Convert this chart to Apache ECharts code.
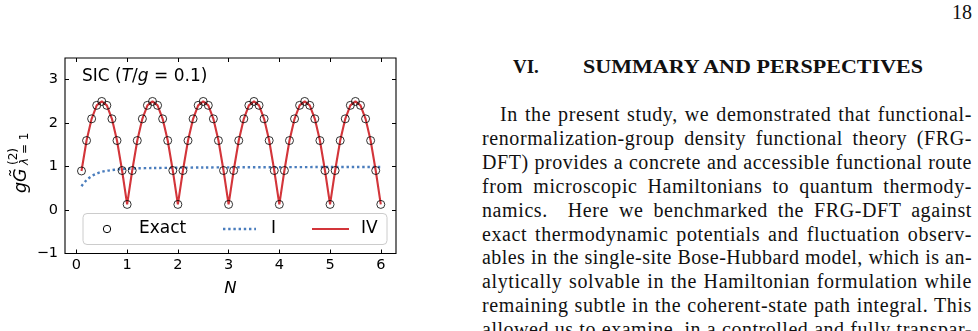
<!DOCTYPE html>
<html>
<head>
<meta charset="utf-8">
<script src="https://cdn.jsdelivr.net/npm/echarts@6/dist/echarts.min.js"></script>
<style>
  html, body { margin: 0; padding: 0; background: #fff; }
  body { width: 978px; height: 331px; position: relative; overflow: hidden; }
  #main { position: absolute; left: 0; top: 0; width: 480px; height: 331px; }
  .page { position: absolute; font-family: "Liberation Serif", serif; color: #111; white-space: nowrap; }
  #pagenum { left: 932px; top: 1px; width: 40px; text-align: right; font-size: 20px; }
  #secnum { left: 513px; top: 56px; font-size: 19px; font-weight: bold; }
  #sectitle { left: 583px; top: 56px; font-size: 19px; font-weight: bold; display: inline-block; transform-origin: 0 0; }
  #para { left: 482px; top: 103px; width: 490px; font-size: 20px; line-height: 23.9px; }
  #para div { text-align: justify; text-align-last: justify; }
</style>
</head>
<body>
<div id="main"></div>
<div class="page" id="pagenum">18</div>
<div class="page" id="secnum">VI.</div>
<div class="page" id="sectitle">SUMMARY AND PERSPECTIVES</div>
<div class="page" id="para"></div>
<script>
// particle number N
var N = [0.1, 0.2, 0.3, 0.4, 0.5, 0.6, 0.7, 0.8, 0.9, 1.0,
         1.1, 1.2, 1.3, 1.4, 1.5, 1.6, 1.7, 1.8, 1.9, 2.0,
         2.1, 2.2, 2.3, 2.4, 2.5, 2.6, 2.7, 2.8, 2.9, 3.0,
         3.1, 3.2, 3.3, 3.4, 3.5, 3.6, 3.7, 3.8, 3.9, 4.0,
         4.1, 4.2, 4.3, 4.4, 4.5, 4.6, 4.7, 4.8, 4.9, 5.0,
         5.1, 5.2, 5.3, 5.4, 5.5, 5.6, 5.7, 5.8, 5.9, 6.0];
// exact values (circles)
var exactG = [0.90, 1.60, 2.10, 2.41, 2.50, 2.41, 2.10, 1.60, 0.91, 0.13,
              0.91, 1.60, 2.10, 2.41, 2.50, 2.41, 2.10, 1.60, 0.91, 0.13,
              0.91, 1.60, 2.10, 2.41, 2.50, 2.41, 2.10, 1.60, 0.91, 0.13,
              0.91, 1.60, 2.10, 2.41, 2.50, 2.41, 2.10, 1.60, 0.91, 0.13,
              0.91, 1.60, 2.10, 2.41, 2.50, 2.41, 2.10, 1.60, 0.91, 0.13,
              0.91, 1.60, 2.10, 2.41, 2.50, 2.41, 2.10, 1.60, 0.91, 0.13];
// approximation IV (red line)
var modelIV = [0.90, 1.60, 2.10, 2.41, 2.50, 2.41, 2.10, 1.60, 0.91, 0.13,
               0.91, 1.60, 2.10, 2.41, 2.50, 2.41, 2.10, 1.60, 0.91, 0.13,
               0.91, 1.60, 2.10, 2.41, 2.50, 2.41, 2.10, 1.60, 0.91, 0.13,
               0.91, 1.60, 2.10, 2.41, 2.50, 2.41, 2.10, 1.60, 0.91, 0.13,
               0.91, 1.60, 2.10, 2.41, 2.50, 2.41, 2.10, 1.60, 0.91, 0.13,
               0.91, 1.60, 2.10, 2.41, 2.50, 2.41, 2.10, 1.60, 0.91, 0.13];
// approximation I (blue dotted)
var nI = [0.1, 0.2, 0.3, 0.4, 0.5, 0.6, 0.7, 0.8, 0.9, 1.0, 1.2, 1.5, 2.0, 2.5, 3.0, 4.0, 5.0, 6.0];
var modelI = [0.55, 0.69, 0.78, 0.84, 0.88, 0.905, 0.92, 0.935, 0.943, 0.95, 0.96, 0.967, 0.975, 0.98, 0.983, 0.987, 0.99, 0.99];

var xTicks = [0, 1, 2, 3, 4, 5, 6];
var yTicks = [-1, 0, 1, 2, 3];

var paraLines = [
  'In the present study, we demonstrated that functional-',
  'renormalization-group density functional theory (FRG-',
  'DFT) provides a concrete and accessible functional route',
  'from microscopic Hamiltonians to quantum thermody-',
  'namics.\u00a0 Here we benchmarked the FRG-DFT against',
  'exact thermodynamic potentials and fluctuation observ-',
  'ables in the single-site Bose-Hubbard model, which is an-',
  'alytically solvable in the Hamiltonian formulation while',
  'remaining subtle in the coherent-state path integral. This',
  'allowed us to examine, in a controlled and fully transpar-'
];

var RED = '#d3353a', BLUE = '#4a7dbd';
var ff = 'DejaVu Sans';
function minusFmt(v) { return v < 0 ? '\u2212' + Math.abs(v) : String(v); }
var tick = { show: true, inside: true, length: 4, lineStyle: { color: '#000', width: 1 } };
var noLine = { show: false, onZero: false };

function pairs(xs, ys) { return xs.map(function (x, i) { return [x, ys[i]]; }); }

var chart = echarts.init(document.getElementById('main'));
var option = {
  animation: false,
  backgroundColor: '#fff',
  grid: { left: 65, top: 58, width: 331, height: 195.5, show: true, borderColor: '#000', borderWidth: 1.1 },
  xAxis: [
    { type: 'value', min: -0.225, max: 6.3, position: 'bottom',
      axisLine: noLine, splitLine: { show: false },
      axisTick: Object.assign({ customValues: xTicks }, tick),
      axisLabel: { customValues: xTicks, margin: 4, fontFamily: ff, fontSize: 14.5, color: '#000' },
      name: 'N', nameLocation: 'middle', nameGap: 27,
      nameTextStyle: { fontFamily: ff, fontStyle: 'italic', fontSize: 16.5, color: '#000' } },
    { type: 'value', min: -0.225, max: 6.3, position: 'top',
      axisLine: noLine, splitLine: { show: false },
      axisTick: Object.assign({ customValues: xTicks }, tick),
      axisLabel: { show: false } }
  ],
  yAxis: [
    { type: 'value', min: -1, max: 3.5, position: 'left',
      axisLine: noLine, splitLine: { show: false },
      axisTick: Object.assign({ customValues: yTicks }, tick),
      axisLabel: { customValues: yTicks, margin: 7, fontFamily: ff, fontSize: 14.5, color: '#000', formatter: minusFmt } },
    { type: 'value', min: -1, max: 3.5, position: 'right',
      axisLine: noLine, splitLine: { show: false },
      axisTick: Object.assign({ customValues: yTicks }, tick),
      axisLabel: { show: false } }
  ],
  graphic: [
    { type: 'text', left: 82, top: 68,
      style: { text: '{n|SIC (}{i|T}{n|/}{i|g}{n| = 0.1)}',
        rich: { n: { fontFamily: ff, fontSize: 17, fill: '#000' },
                i: { fontFamily: ff, fontStyle: 'italic', fontSize: 17, fill: '#000' } } } },
    // y-axis title, rotated
    { type: 'group', x: 30, y: 193, rotation: Math.PI / 2, children: [
      { type: 'text', x: 0, y: 0, style: { text: 'gG\u0303', fontFamily: ff, fontStyle: 'italic', fontSize: 17.5, fill: '#000', verticalAlign: 'bottom' } },
      { type: 'text', x: 28, y: -10, style: { text: '(2)', fontFamily: ff, fontSize: 12, fill: '#000', verticalAlign: 'bottom' } },
      { type: 'text', x: 28, y: 1, style: { text: '{i|\u03bb} = 1', fontFamily: ff, fontSize: 12, fill: '#000', verticalAlign: 'bottom',
        rich: { i: { fontFamily: ff, fontStyle: 'italic', fontSize: 12, fill: '#000' } } } }
    ] },
    // legend box
    { type: 'group', x: 83, y: 213.5, z: 20, children: [
      { type: 'rect', shape: { x: 0, y: 0, width: 304, height: 31, r: 4 },
        style: { fill: 'rgba(255,255,255,0.85)', stroke: '#cccccc', lineWidth: 1 } },
      { type: 'circle', shape: { cx: 24, cy: 15.5, r: 3.7 }, style: { fill: 'none', stroke: '#000', lineWidth: 1 } },
      { type: 'text', x: 56, y: 15.5, style: { text: 'Exact', fontFamily: ff, fontSize: 17, fill: '#000', verticalAlign: 'middle' } },
      { type: 'line', shape: { x1: 140, y1: 15.5, x2: 173, y2: 15.5 },
        style: { stroke: BLUE, lineWidth: 2.4, lineDash: [2.4, 2.8] } },
      { type: 'text', x: 188, y: 15.5, style: { text: 'I', fontFamily: ff, fontSize: 17, fill: '#000', verticalAlign: 'middle' } },
      { type: 'line', shape: { x1: 229, y1: 15.5, x2: 266, y2: 15.5 },
        style: { stroke: RED, lineWidth: 2 } },
      { type: 'text', x: 278, y: 15.5, style: { text: 'IV', fontFamily: ff, fontSize: 17, fill: '#000', verticalAlign: 'middle' } }
    ] }
  ],
  series: [
    { name: 'I', type: 'line', data: pairs(nI, modelI), symbol: 'none', smooth: 0.3, z: 2,
      itemStyle: { color: BLUE },
      lineStyle: { color: BLUE, width: 2.4, type: [2.4, 2.8], cap: 'butt' } },
    { name: 'IV', type: 'line', data: pairs(N, modelIV), symbol: 'none', z: 3,
      itemStyle: { color: RED },
      lineStyle: { color: RED, width: 2.1 } },
    { name: 'Exact', type: 'scatter', data: pairs(N, exactG), symbol: 'circle', symbolSize: 8, z: 4,
      itemStyle: { color: 'rgba(0,0,0,0)', borderColor: '#000', borderWidth: 1 } }
  ]
};
chart.setOption(option);

// stretch the bold heading to its printed width
var st = document.getElementById('sectitle');
var w = st.getBoundingClientRect().width;
st.style.transform = 'scaleX(' + (340 / w) + ')';

// justified paragraph lines, letter spacing shrunk where a line would overflow
var para = document.getElementById('para');
paraLines.forEach(function (t, i) {
  var d = document.createElement('div');
  var indent = i === 0 ? 18 : 0;
  d.style.paddingLeft = indent + 'px';
  var s = document.createElement('span');
  s.textContent = t;
  d.appendChild(s);
  para.appendChild(d);
  var ls = 0.6;
  s.style.letterSpacing = ls + 'px';
  var nat = s.getBoundingClientRect().width;
  var room = 490 - indent;
  if (nat > room) ls -= (nat - room + 2) / t.length;
  d.textContent = t;
  d.style.letterSpacing = ls + 'px';
});
</script>
</body>
</html>
